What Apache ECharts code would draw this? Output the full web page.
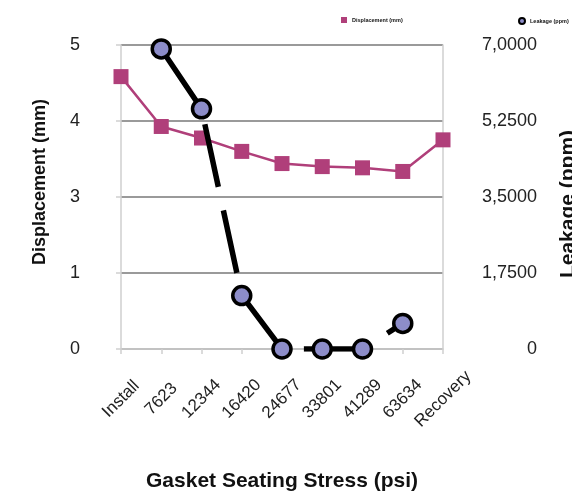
<!DOCTYPE html>
<html>
<head>
<meta charset="utf-8">
<script src="https://cdn.jsdelivr.net/npm/echarts@6/dist/echarts.min.js"></script>
<style>
  html, body { margin: 0; padding: 0; background: #fff; }
  #chart { width: 572px; height: 491px; }
</style>
</head>
<body>
<div id="chart"></div>
<script>
// Categories along the x axis: seating stress steps (psi)
const categories = ['Install', '7623', '12344', '16420', '24677', '33801', '41289', '63634', 'Recovery'];

// Displacement (mm), left axis
const displacement = [4.48, 3.66, 3.47, 3.25, 3.05, 3.00, 2.98, 2.92, 3.44];

// Leakage, right axis (no readings at Install / Recovery)
const leakage = [null, 6.91, 5.53, 1.23, 0, 0, 0, 0.59, null];

// Tick labels as printed on each axis, bottom to top
const leftTickLabels = ['0', '1', '3', '4', '5'];
const rightTickLabels = ['0', '1,7500', '3,5000', '5,2500', '7,0000'];

const FONT = 'Liberation Sans, Arial, Helvetica, sans-serif';
const PINK = '#b03f7a';
const BLUE = '#8d8dc9';

const legendText = { fontSize: 5.5, fontWeight: 'bold', color: '#111', fontFamily: FONT };

const chart = echarts.init(document.getElementById('chart'), null, { renderer: 'canvas' });

chart.setOption({
  animation: false,
  backgroundColor: '#ffffff',
  textStyle: { fontFamily: FONT, color: '#222' },
  legend: [
    {
      top: 12, left: 336, itemWidth: 6, itemHeight: 6, itemGap: 4,
      textStyle: legendText,
      data: [{ name: 'Displacement (mm)', icon: 'rect' }]
    },
    {
      top: 12, left: 513, itemWidth: 6, itemHeight: 6, itemGap: 4,
      textStyle: legendText,
      data: [{ name: 'Leakage (ppm)', icon: 'circle' }]
    }
  ],
  grid: { left: 121, right: 129, top: 45, bottom: 142, containLabel: false, outerBoundsMode: 'none' },
  xAxis: {
    type: 'category',
    data: categories,
    boundaryGap: false,
    axisLine: { lineStyle: { color: '#cfcfcf', width: 1.5 } },
    axisTick: { show: true, alignWithLabel: true, length: 5, lineStyle: { color: '#cfcfcf', width: 1.5 } },
    axisLabel: {
      rotate: 45,
      interval: 0,
      margin: 50,
      align: 'center',
      verticalAlign: 'middle',
      fontSize: 17,
      color: '#222',
      fontFamily: FONT
    },
    name: 'Gasket Seating Stress (psi)',
    nameLocation: 'middle',
    nameGap: 122,
    nameTextStyle: { fontSize: 21, fontWeight: 'bold', color: '#111', fontFamily: FONT }
  },
  yAxis: [
    {
      type: 'value',
      min: 0,
      max: 5,
      interval: 1.25,
      position: 'left',
      axisLine: { show: true, lineStyle: { color: '#cfcfcf', width: 1.5 } },
      axisTick: { show: true, length: 5, lineStyle: { color: '#cfcfcf', width: 1.5 } },
      splitLine: { show: true, lineStyle: { color: '#9a9a9a', width: 2 } },
      axisLabel: {
        margin: 41,
        fontSize: 18,
        color: '#222',
        fontFamily: FONT,
        formatter: (v) => leftTickLabels[Math.round(v / 1.25)]
      },
      name: 'Displacement (mm)',
      nameLocation: 'middle',
      nameRotate: 90,
      nameGap: 72,
      nameTextStyle: { fontSize: 18, fontWeight: 'bold', color: '#111', fontFamily: FONT, padding: [0, 0, 0, 30] }
    },
    {
      type: 'value',
      min: 0,
      max: 7,
      interval: 1.75,
      position: 'right',
      axisLine: { show: true, lineStyle: { color: '#cfcfcf', width: 1.5 } },
      axisTick: { show: false },
      splitLine: { show: false },
      axisLabel: {
        margin: 94,
        align: 'right',
        fontSize: 18,
        color: '#222',
        fontFamily: FONT,
        formatter: (v) => rightTickLabels[Math.round(v / 1.75)]
      },
      name: 'Leakage (ppm)',
      nameLocation: 'middle',
      nameRotate: 90,
      nameGap: 115,
      nameTextStyle: { fontSize: 21, fontWeight: 'bold', color: '#111', fontFamily: FONT, padding: [0, 14, 0, 0] }
    }
  ],
  series: [
    {
      name: 'Displacement (mm)',
      type: 'line',
      yAxisIndex: 0,
      data: displacement,
      symbol: 'rect',
      symbolSize: 15,
      itemStyle: { color: PINK },
      lineStyle: { color: PINK, width: 2.5 },
      z: 2
    },
    {
      name: 'Leakage (ppm)',
      type: 'line',
      yAxisIndex: 1,
      data: leakage,
      connectNulls: false,
      symbol: 'circle',
      symbolSize: 18,
      showAllSymbol: true,
      itemStyle: { color: BLUE, borderColor: '#000', borderWidth: 3.5 },
      lineStyle: { color: '#000', width: 5.5, type: [64, 24], dashOffset: 0 },
      z: 3
    }
  ]
});
</script>
</body>
</html>
